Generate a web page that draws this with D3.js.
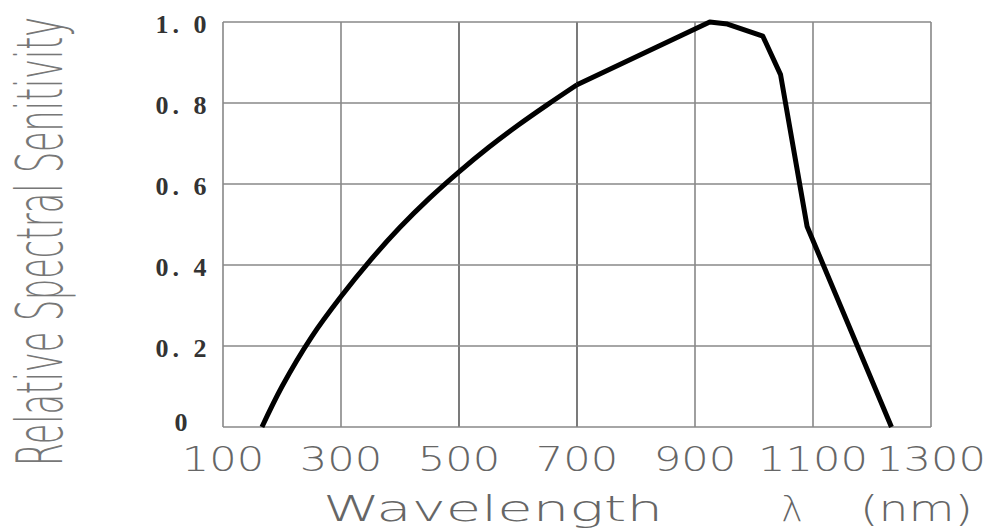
<!DOCTYPE html>
<html>
<head>
<meta charset="utf-8">
<script src="https://cdn.jsdelivr.net/npm/d3@7"></script>
<style>
  body { margin: 0; background: #fff; }
  svg { display: block; }
</style>
</head>
<body>
<svg width="1002" height="531"></svg>
<script>
const xTicks = [100, 300, 500, 700, 900, 1100, 1300];
const yTicks = [0, 0.2, 0.4, 0.6, 0.8, 1.0];
const yTickLabels = ["0", "0. 2", "0. 4", "0. 6", "0. 8", "1. 0"];

// rising part of the curve (smooth)
const riseWl = [166, 200, 250, 300, 350, 400, 450, 500, 550, 600, 650, 700];
const riseVal = [0, 0.1, 0.222, 0.322, 0.412, 0.493, 0.565, 0.63, 0.69, 0.745, 0.796, 0.845];
// peak and fall-off (straight pieces)
const fallWl = [700, 925, 955, 1015, 1045, 1090, 1233];
const fallVal = [0.845, 1.0, 0.995, 0.965, 0.87, 0.495, 0];

const svg = d3.select("svg");

var x = d3.scaleLinear().domain([100, 1300]).range([223, 931]);
var y = d3.scaleLinear().domain([0, 1]).range([427, 22]);

// grid
var grid = svg.append("g");
grid.selectAll("line.v")
  .data(xTicks)
  .join("line")
  .attr("class", "v")
  .attr("x1", function (d) { return x(d); })
  .attr("x2", function (d) { return x(d); })
  .attr("y1", y(0))
  .attr("y2", y(1))
  .attr("stroke", function (d) { return (d == 500 || d == 700) ? "#222" : "#888"; })
  .attr("stroke-width", function (d) { return (d == 500 || d == 700) ? 1.2 : 1.6; });

grid.selectAll("line.h")
  .data(yTicks)
  .join("line")
  .attr("class", "h")
  .attr("x1", x(100))
  .attr("x2", x(1300))
  .attr("y1", function (d) { return y(d); })
  .attr("y2", function (d) { return y(d); })
  .attr("stroke", "#888")
  .attr("stroke-width", 1.6);

// y tick labels
svg.append("g")
  .selectAll("text")
  .data(yTicks)
  .join("text")
  .attr("x", 181)
  .attr("y", function (d) { return y(d) + (d == 0 ? -2 : 5); })
  .attr("text-anchor", "middle")
  .attr("dominant-baseline", "middle")
  .attr("font-family", "Liberation Serif")
  .attr("font-weight", "bold")
  .attr("font-size", 26)
  .attr("fill", "#333")
  .attr("textLength", function (d, i) { return i == 0 ? null : 51; })
  .attr("lengthAdjust", "spacing")
  .text(function (d, i) { return yTickLabels[i]; });

// x tick labels
svg.append("g")
  .selectAll("text")
  .data(xTicks)
  .join("text")
  .attr("x", function (d) { return x(d); })
  .attr("y", 471)
  .attr("text-anchor", "middle")
  .attr("font-family", "DejaVu Sans")
  .attr("font-weight", 200)
  .attr("font-size", 34)
  .attr("fill", "#666")
  .attr("textLength", function (d) { return String(d).length * 27.5; })
  .attr("lengthAdjust", "spacingAndGlyphs")
  .text(function (d) { return d; });

// axis titles
svg.append("text")
  .attr("x", 323)
  .attr("y", 521)
  .attr("font-family", "DejaVu Sans")
  .attr("font-weight", 200)
  .attr("font-size", 36)
  .attr("fill", "#666")
  .attr("textLength", 340)
  .attr("lengthAdjust", "spacingAndGlyphs")
  .text("Wavelength");

svg.append("text")
  .attr("x", 792)
  .attr("y", 521)
  .attr("text-anchor", "middle")
  .attr("font-family", "DejaVu Sans")
  .attr("font-weight", 200)
  .attr("font-size", 36)
  .attr("fill", "#666")
  .text("λ");

svg.append("text")
  .attr("x", 860)
  .attr("y", 521)
  .attr("font-family", "DejaVu Sans")
  .attr("font-weight", 200)
  .attr("font-size", 36)
  .attr("fill", "#666")
  .attr("textLength", 113)
  .attr("lengthAdjust", "spacingAndGlyphs")
  .text("(nm)");

svg.append("text")
  .attr("transform", "translate(62,466) rotate(-90)")
  .attr("font-family", "DejaVu Sans")
  .attr("font-weight", 200)
  .attr("font-size", 64)
  .attr("fill", "#777")
  .attr("textLength", 449)
  .attr("lengthAdjust", "spacingAndGlyphs")
  .text("Relative Spectral Senitivity");

// curve
var rise = riseWl.map(function (d, i) { return [d, riseVal[i]]; });
var fall = fallWl.map(function (d, i) { return [d, fallVal[i]]; });

var smoothLine = d3.line()
  .x(function (d) { return x(d[0]); })
  .y(function (d) { return y(d[1]); })
  .curve(d3.curveCatmullRom.alpha(0.5));
var straightLine = d3.line()
  .x(function (d) { return x(d[0]); })
  .y(function (d) { return y(d[1]); });

svg.append("path")
  .attr("d", smoothLine(rise))
  .attr("fill", "none")
  .attr("stroke", "#000")
  .attr("stroke-width", 5)
  .attr("stroke-linejoin", "round");

svg.append("path")
  .attr("d", straightLine(fall))
  .attr("fill", "none")
  .attr("stroke", "#000")
  .attr("stroke-width", 5)
  .attr("stroke-linejoin", "round");
</script>
</body>
</html>
